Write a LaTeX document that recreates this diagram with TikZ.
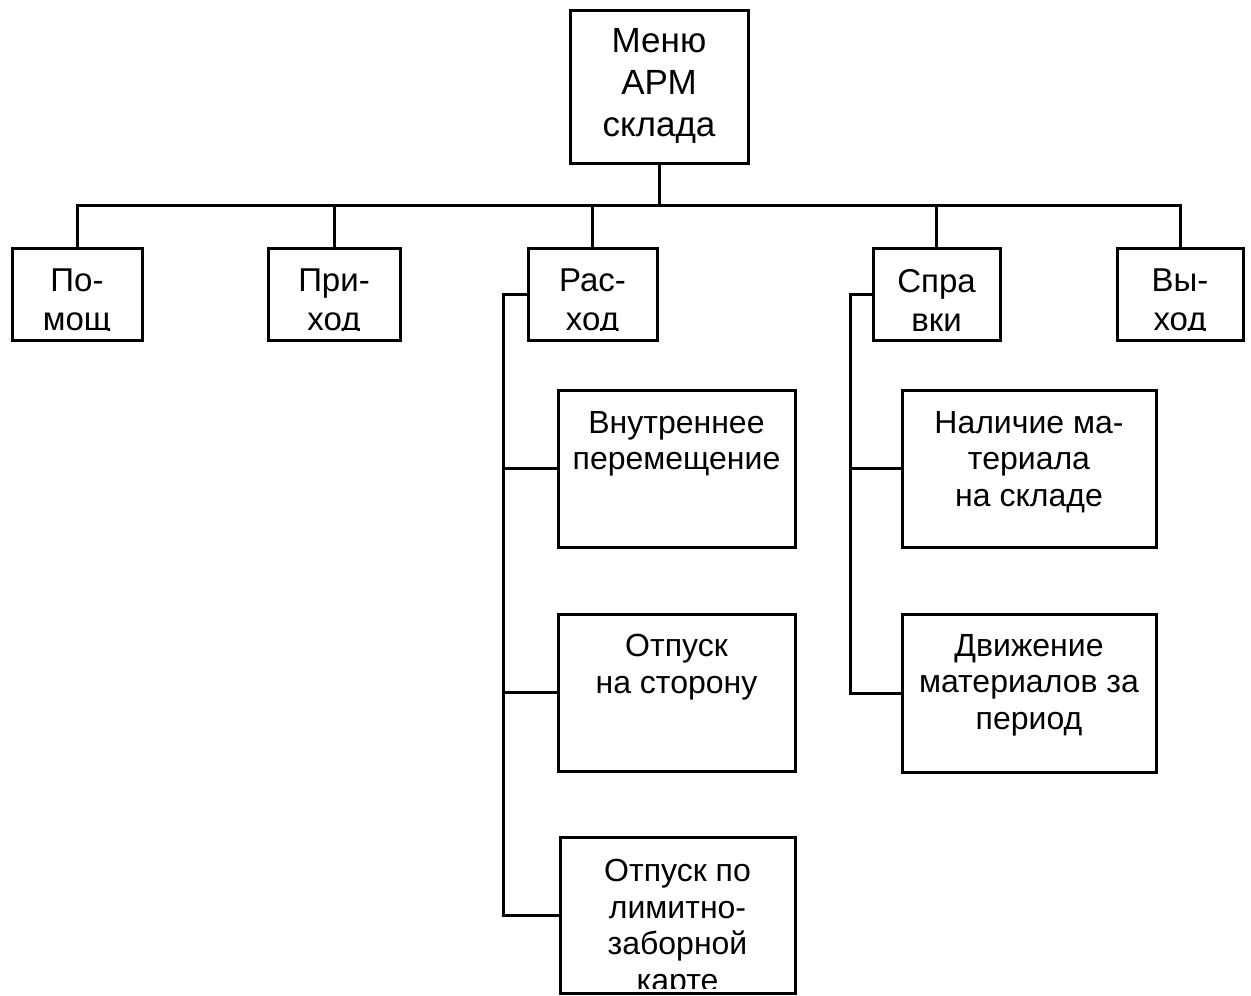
\documentclass[tikz,border=0pt]{standalone}
\usepackage{fontspec}
\setmainfont{Liberation Sans}
\newcommand\topf{\fontsize{35}{42}\selectfont}
\newcommand\rowf{\fontsize{33}{39}\selectfont}
\newcommand\subf{\fontsize{32}{36.8}\selectfont}
\tikzset{
  blk/.style={draw, line width=3pt, inner sep=0pt, outer sep=0pt, anchor=north west},
  inlabel/.style n args={4}{path picture={
      \clip ([yshift=#2]path picture bounding box.south west) rectangle (path picture bounding box.north east);
      \node[anchor=north, align=center, inner sep=0pt, minimum width=0pt, minimum height=0pt, font=#1]
        at ([yshift=-#3]path picture bounding box.north) {#4};}},
  wire/.style={line width=3pt},
}
\begin{document}
\begin{tikzpicture}[x=1pt,y=-1pt]
    \useasboundingbox (0,0) rectangle (1251,996);
    % root
    \node (menu) [blk, minimum width=178pt, minimum height=153pt, inlabel={\topf}{0pt}{18pt}{Меню\\АРМ\\склада}] at (570,10) {};
    % first row
    \node (pom) [blk, minimum width=130pt, minimum height=92pt, inlabel={\rowf}{10pt}{21pt}{По-\\мощ}] at (12,248) {};
    \node (prih) [blk, minimum width=132pt, minimum height=92pt, inlabel={\rowf}{10pt}{21pt}{При-\\ход}] at (268,248) {};
    \node (rash) [blk, minimum width=129pt, minimum height=92pt, inlabel={\rowf}{10pt}{21pt}{Рас-\\ход}] at (528,248) {};
    \node (sprav) [blk, minimum width=127pt, minimum height=92pt, inlabel={\rowf}{10pt}{21pt}{Спра\\вки}] at (873,248) {};
    \node (vyh) [blk, minimum width=126pt, minimum height=92pt, inlabel={\rowf}{10pt}{21pt}{Вы-\\ход}] at (1117,248) {};
    % under Rashod
    \node (vnutr) [blk, minimum width=237pt, minimum height=157pt, inlabel={\subf}{3pt}{21pt}{Внутреннее\\перемещение}] at (558,390) {};
    \node (otstor) [blk, minimum width=237pt, minimum height=157pt, inlabel={\subf}{3pt}{20pt}{Отпуск\\на сторону}] at (558,614) {};
    \node (limit) [blk, minimum width=235pt, minimum height=156pt, inlabel={\subf}{5pt}{22pt}{Отпуск по\\лимитно-\\заборной\\карте}] at (560,837) {};
    % under Spravki
    \node (nalich) [blk, minimum width=254pt, minimum height=157pt, inlabel={\subf}{3pt}{21pt}{Наличие ма-\\териала\\на складе}] at (902,390) {};
    \node (dvizh) [blk, minimum width=254pt, minimum height=158pt, inlabel={\subf}{3pt}{20pt}{Движение\\материалов за\\период}] at (902,614) {};
    % bus
    \coordinate (bus) at (659,205);
    \draw[wire] (menu.south) -- (menu.south |- bus);
    \draw[wire] (pom.north) -- (pom.north |- bus) -- (vyh.north |- bus) -- (vyh.north);
    \foreach \n in {prih,rash,sprav}
        \draw[wire] (\n.north) -- (\n.north |- bus);
    % Rashod branch
    \draw[wire] (rash.west) -- ++(-25,0) coordinate (rbend) |- (limit.west);
    \draw[wire] (rbend |- vnutr.west) -- (vnutr.west);
    \draw[wire] (rbend |- otstor.west) -- (otstor.west);
    % Spravki branch
    \draw[wire] (sprav.west) -- ++(-23,0) coordinate (sbend) |- (dvizh.west);
    \draw[wire] (sbend |- nalich.west) -- (nalich.west);
\end{tikzpicture}
\end{document}
